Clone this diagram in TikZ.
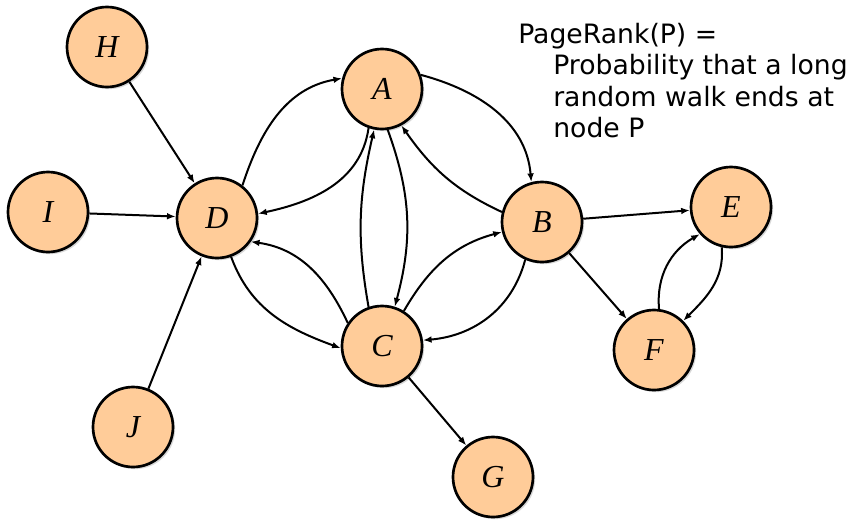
\documentclass[tikz,border=0pt]{standalone}
\usepackage{fontspec}
\setmainfont{Liberation Serif}
\newfontfamily\txtfont{DejaVu Sans}
\usetikzlibrary{arrows.meta,shadows}
\definecolor{peach}{HTML}{FFCC99}
\begin{document}
\begin{tikzpicture}[x=0.75pt,y=0.75pt,
  vert/.style={circle, draw=black, line width=2pt, fill=peach, minimum size=60pt, inner sep=0pt,
    font=\fontsize{24}{24}\selectfont\itshape,
    drop shadow={shadow xshift=1.6pt, shadow yshift=-1.6pt, opacity=0.3}},
  edge/.style={line width=1.5pt, -{Latex[length=6.5pt,width=5pt]}},
  lbl/.style={anchor=base west, inner sep=0pt, font=\txtfont\fontsize{20}{20}\selectfont}]
\fill[white] (0,-521) rectangle (848,0);
\useasboundingbox (0,-521) rectangle (848,0);
% nodes
\node[vert] (H) at (107,-47) {H};
\node[vert] (I) at (48,-212) {I};
\node[vert] (D) at (217,-218) {D};
\node[vert] (J) at (133,-427) {J};
\node[vert] (A) at (382,-89) {A};
\node[vert] (B) at (542,-222) {B};
\node[vert] (C) at (382,-346) {C};
\node[vert] (E) at (731,-207) {E};
\node[vert] (F) at (654,-350) {F};
\node[vert] (G) at (493,-477) {G};
% text
\node[lbl] (t1) at (518,-43) {PageRank(P) =};
\node[lbl] (t2) at (553,-74) {Probability that a long};
\node[lbl] (t3) at (553,-106) {random walk ends at};
\node[lbl] (t4) at (553,-137) {node P};
% edges
\draw[edge] (H) -- (D);
\draw[edge] (I) -- (D);
\draw[edge] (J) -- (D);
\draw[edge] (D.52) to[out=72,in=190] (A.165);
\draw[edge] (A.251) to[out=262,in=12] (D.6);
\draw[edge] (D.290) to[out=290,in=160] (C.183);
\draw[edge] (C.146) to[out=115,in=352] (D.325);
\draw[edge] (C.109) to[out=100,in=257] (A.259);
\draw[edge] (A.278) to[out=290,in=75] (C.72);
\draw[edge] (A.20) to[out=-15,in=95] (B.105);
\draw[edge] (B.166) to[out=155,in=305] (A.298);
\draw[edge] (C.58) to[out=60,in=195] (B.194);
\draw[edge] (B.246) to[out=255,in=5] (C.8);
\draw[edge] (B) -- (E);
\draw[edge] (B) -- (F);
\draw[edge] (C) -- (G);
\draw[edge] (F.83) to[out=95,in=210] (E.221);
\draw[edge] (E.257) to[out=275,in=45] (F.45);
\end{tikzpicture}
\end{document}
